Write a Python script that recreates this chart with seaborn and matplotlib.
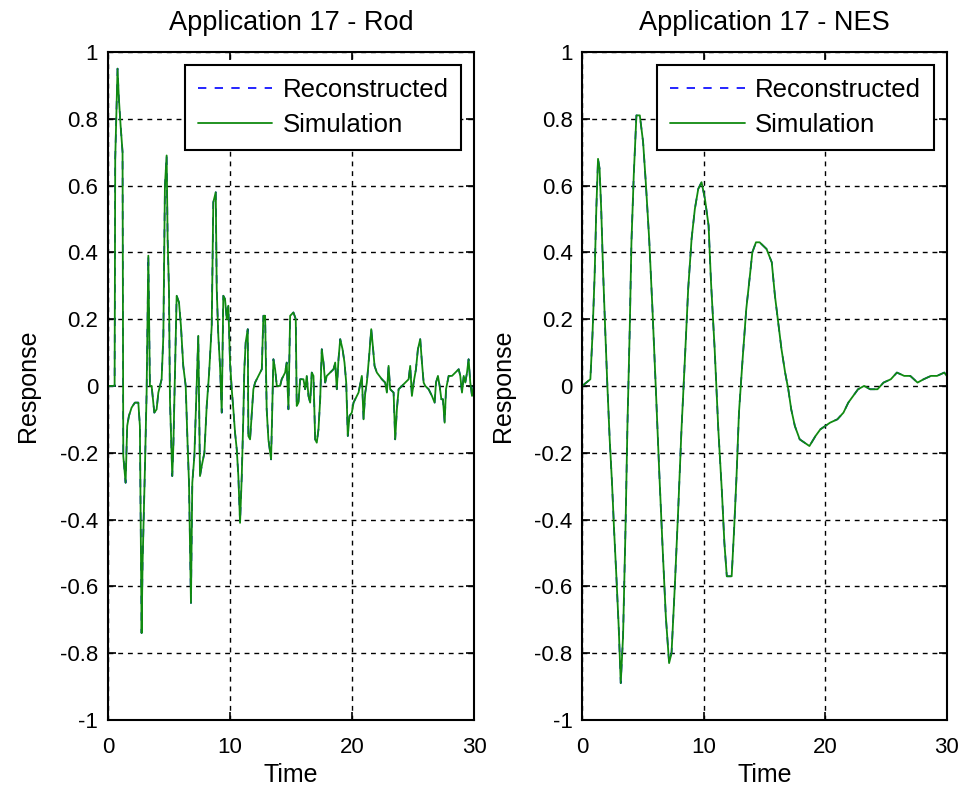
import numpy as np
import pandas as pd
import seaborn as sns
import matplotlib
matplotlib.use("Agg")
import matplotlib.pyplot as plt
from matplotlib.ticker import FixedLocator, FixedFormatter

# Rod response (time, response)
rod_time = [0, 0.55, 0.6, 0.79, 0.9, 1.04, 1.2, 1.26, 1.45, 1.58, 1.72, 1.94, 2.21, 2.49, 2.62, 2.76,
            2.84, 3.03, 3.17, 3.31, 3.44, 3.58, 3.8, 3.99, 4.13, 4.4, 4.54, 4.67, 4.81, 4.89, 5.0, 5.08,
            5.27, 5.36, 5.63, 5.82, 5.98, 6.17, 6.37, 6.53, 6.64, 6.8, 6.91, 7.08, 7.27, 7.4, 7.54, 7.68,
            7.9, 8.09, 8.28, 8.5, 8.63, 8.83, 8.91, 9.04, 9.18, 9.32, 9.45, 9.59, 9.73, 9.86, 10.0, 10.14,
            10.27, 10.41, 10.55, 10.68, 10.82, 10.96, 11.09, 11.17, 11.28, 11.45, 11.5, 11.64, 11.78,
            11.91, 12.05, 12.32, 12.6, 12.73, 12.87, 13.0, 13.14, 13.36, 13.55, 13.69, 13.83, 14.1,
            14.23, 14.51, 14.64, 14.78, 14.92, 15.19, 15.38, 15.46, 15.6, 15.74, 16.01, 16.15, 16.28,
            16.42, 16.56, 16.69, 16.83, 16.97, 17.1, 17.24, 17.38, 17.51, 17.65, 17.79, 17.92, 18.2,
            18.47, 18.61, 18.74, 18.88, 19.02, 19.21, 19.37, 19.51, 19.64, 19.78, 19.97, 20.11, 20.25,
            20.52, 20.79, 20.93, 21.07, 21.2, 21.39, 21.56, 21.69, 21.83, 22.02, 22.43, 22.7, 22.84,
            22.98, 23.11, 23.39, 23.52, 23.66, 23.8, 24.07, 24.34, 24.62, 24.75, 24.89, 25.03, 25.22,
            25.38, 25.57, 25.71, 25.85, 25.98, 26.26, 26.53, 26.75, 26.86, 27.02, 27.16, 27.3, 27.43,
            27.57, 27.68, 27.9, 28.17, 28.72, 28.85, 28.99, 29.13, 29.26, 29.4, 29.53, 29.67, 29.81,
            29.95, 30.0]
rod_sim = [0, 0, 0.68, 0.95, 0.86, 0.78, 0.70, -0.21, -0.29, -0.12, -0.09, -0.065, -0.05, -0.05, -0.12,
           -0.74, -0.53, -0.25, -0.02, 0.39, 0.0, 0.0, -0.08, -0.07, -0.02, 0.02, 0.15, 0.60, 0.69, 0.44,
           0.29, -0.04, -0.27, -0.18, 0.27, 0.25, 0.18, 0.06, 0.0, -0.18, -0.29, -0.65, -0.29, -0.21, 0.0,
           0.15, -0.27, -0.24, -0.20, -0.06, 0.035, 0.18, 0.55, 0.58, 0.29, 0.15, 0.06, -0.08, 0.27, 0.26,
           0.20, 0.24, 0.07, -0.01, -0.07, -0.14, -0.19, -0.27, -0.41, -0.27, -0.09, 0.05, 0.13, 0.17,
           -0.15, -0.16, -0.08, -0.01, 0.01, 0.03, 0.05, 0.21, 0.21, -0.07, -0.16, -0.22, 0.08, 0.05, 0.0,
           0.0, 0.02, 0.04, 0.07, -0.07, 0.21, 0.22, 0.20, -0.06, -0.05, 0.02, 0.02, -0.01, 0.03, -0.03,
           -0.05, 0.04, 0.03, -0.16, -0.17, -0.13, -0.04, 0.11, 0.07, 0.01, 0.03, 0.04, 0.05, 0.07, -0.01,
           0.08, 0.14, 0.11, 0.07, 0.01, -0.15, -0.09, -0.08, -0.05, -0.04, -0.02, 0.03, -0.10, -0.02,
           0.01, 0.09, 0.17, 0.12, 0.06, 0.04, 0.02, 0.01, -0.02, 0.06, -0.01, -0.02, -0.16, -0.07, -0.01,
           0.0, 0.01, 0.02, 0.06, -0.03, 0.01, 0.05, 0.11, 0.14, 0.07, 0.01, 0.0, -0.01, -0.03, -0.05,
           0.01, 0.03, 0.0, -0.04, -0.04, -0.11, -0.01, 0.03, 0.03, 0.05, 0.03, -0.02, 0.03, 0.01, 0.04,
           0.08, 0.01, -0.03, 0.0, 0.0]
rod_rec = rod_sim  # reconstruction lies on top of the simulation

# NES response
nes_time = [0, 0.67, 0.84, 1.02, 1.16, 1.30, 1.43, 1.57, 1.71, 1.90, 2.07, 2.26, 2.45, 2.62, 2.81, 3.0,
            3.17, 3.36, 3.56, 3.72, 3.91, 4.05, 4.24, 4.46, 4.74, 5.01, 5.23, 5.51, 5.78, 6.06, 6.33,
            6.61, 6.88, 7.15, 7.35, 7.62, 7.9, 8.17, 8.45, 8.72, 9.0, 9.27, 9.55, 9.82, 10.1, 10.4, 10.6,
            10.9, 11.2, 11.5, 11.7, 11.9, 12.3, 12.5, 12.7, 12.9, 13.2, 13.5, 13.8, 14.0, 14.3, 14.6,
            15.17, 15.6, 15.86, 16.13, 16.4, 16.7, 16.96, 17.2, 17.5, 17.9, 18.3, 18.7, 19.2, 19.6, 20.0,
            20.4, 21.0, 21.5, 21.9, 22.3, 22.7, 23.2, 23.7, 24.3, 24.8, 25.4, 25.9, 26.5, 27.0, 27.6,
            28.1, 28.7, 29.2, 29.8, 30.0]
nes_sim = [0, 0.02, 0.15, 0.33, 0.53, 0.68, 0.65, 0.52, 0.35, 0.16, 0.0, -0.16, -0.29, -0.43, -0.57,
           -0.72, -0.89, -0.75, -0.43, -0.12, 0.17, 0.43, 0.63, 0.81, 0.81, 0.73, 0.61, 0.44, 0.23, -0.01,
           -0.25, -0.48, -0.69, -0.83, -0.80, -0.60, -0.37, -0.13, 0.08, 0.29, 0.44, 0.53, 0.59, 0.61,
           0.56, 0.48, 0.31, 0.11, -0.13, -0.32, -0.47, -0.57, -0.57, -0.43, -0.27, -0.08, 0.08, 0.23,
           0.33, 0.40, 0.43, 0.43, 0.41, 0.37, 0.27, 0.19, 0.11, 0.04, -0.01, -0.07, -0.12, -0.16, -0.17,
           -0.18, -0.15, -0.13, -0.12, -0.11, -0.10, -0.08, -0.05, -0.03, -0.01, 0.0, -0.01, -0.01, 0.01,
           0.02, 0.04, 0.03, 0.03, 0.01, 0.02, 0.03, 0.03, 0.04, 0.03]
nes_rec = nes_sim

titles = ["Application 17 - Rod", "Application 17 - NES"]
x_ticks = [0, 10, 20, 30]
y_ticks = [-1, -0.8, -0.6, -0.4, -0.2, 0, 0.2, 0.4, 0.6, 0.8, 1]
y_tick_labels = ["-1", "-0.8", "-0.6", "-0.4", "-0.2", "0", "0.2", "0.4", "0.6", "0.8", "1"]

sns.set_theme(style="white")
plt.rcParams['font.family'] = ['Liberation Sans', 'DejaVu Sans']
plt.rcParams['text.color'] = 'black'
plt.rcParams['axes.labelcolor'] = 'black'

fig = plt.figure(figsize=(9.72, 7.99), dpi=100)
ax1 = fig.add_axes([0.111, 0.099, 0.377, 0.836])
ax2 = fig.add_axes([0.599, 0.099, 0.375, 0.836])

panels = [(ax1, rod_time, rod_rec, rod_sim, titles[0]),
          (ax2, nes_time, nes_rec, nes_sim, titles[1])]

for ax, t, rec, sim, title in panels:
    sns.lineplot(x=t, y=rec, ax=ax, color="#0000ff", linestyle=(0, (5, 5)), linewidth=1.2,
                 label="Reconstructed", estimator=None, sort=False)
    sns.lineplot(x=t, y=sim, ax=ax, color="#108a10", linewidth=1.3,
                 label="Simulation", estimator=None, sort=False)
    ax.set_xlim(0, 30)
    ax.set_ylim(-1, 1)
    ax.xaxis.set_major_locator(FixedLocator(x_ticks))
    ax.yaxis.set_major_locator(FixedLocator(y_ticks))
    ax.yaxis.set_major_formatter(FixedFormatter(y_tick_labels))
    ax.grid(True, color="black", linestyle=(0, (3.5, 3.5)), linewidth=1.0)
    ax.tick_params(direction="in", length=6, width=1.2, top=True, right=True,
                   bottom=True, left=True, labelsize=16, colors="black")
    ax.tick_params(axis="x", pad=12)
    ax.tick_params(axis="y", pad=7)
    for sp in ax.spines.values():
        sp.set_color("black")
        sp.set_linewidth(1.5)
    ax.set_title(title, fontsize=19.5, pad=16, color="black")
    ax.set_xlabel("Time", fontsize=18, labelpad=4)
    ax.set_ylabel("Response", fontsize=18, labelpad=14)
    leg = ax.legend(loc="upper right", fontsize=18.5, handlelength=2.9, handletextpad=0.4,
                    borderpad=0.5, labelspacing=0.45, fancybox=False, framealpha=1,
                    edgecolor="black", borderaxespad=0.5)
    leg.get_frame().set_linewidth(1.5)

fig.savefig("out.png", dpi=100)
